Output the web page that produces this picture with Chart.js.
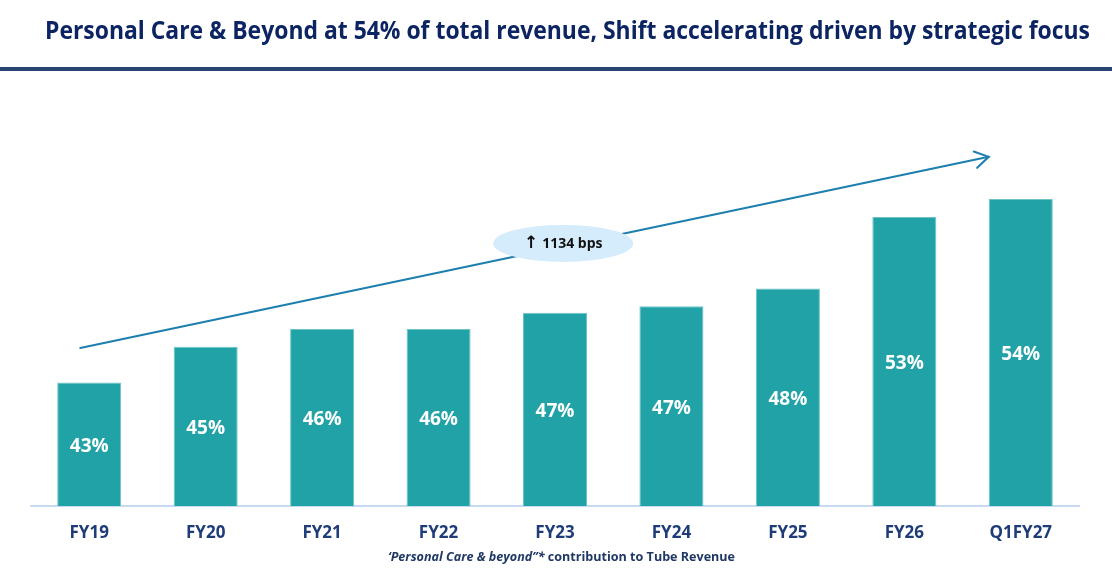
<!DOCTYPE html>
<html>
<head>
<meta charset="utf-8">
<script src="https://cdn.jsdelivr.net/npm/chart.js@4.4.0/dist/chart.umd.min.js"></script>
<style>
html,body{margin:0;padding:0;background:#ffffff;}
#wrap{width:1112px;height:575px;position:relative;overflow:hidden;}
</style>
</head>
<body>
<div id="wrap"><canvas id="c" width="1112" height="575"></canvas></div>
<script>
// ---- data ----
const categories = ['FY19','FY20','FY21','FY22','FY23','FY24','FY25','FY26','Q1FY27'];
const shareValues = [42.6, 44.8, 45.9, 45.9, 46.9, 47.3, 48.4, 52.8, 53.9];
const valueLabels = ['43%','45%','46%','46%','47%','47%','48%','53%','54%'];
const titleText = 'Personal Care & Beyond at 54% of total revenue, Shift accelerating driven by strategic focus';
const captionItalic = '\u2018Personal Care & beyond\u201D*';
const captionRest = ' contribution to Tube Revenue';
const badgeArrow = '\u2191';
const badgeText = '1134 bps';

const NAVY = '#0c2461';
const AXISNAVY = '#1d3c78';
const TEAL = '#21a2a7';

Chart.defaults.font.family = '"Open Sans", "DejaVu Sans", sans-serif';

const overlay = {
  id: 'overlay',
  beforeDraw(chart) {
    const ctx = chart.ctx;
    ctx.save();
    ctx.fillStyle = '#ffffff';
    ctx.fillRect(0, 0, chart.width, chart.height);
    ctx.restore();
  },
  afterDraw(chart) {
    const ctx = chart.ctx;
    const xs = chart.scales.x, ys = chart.scales.y;

    // Value labels centred inside bars
    ctx.save();
    ctx.font = 'bold 19px "Open Sans"';
    ctx.fillStyle = '#ffffff';
    ctx.textAlign = 'center';
    ctx.textBaseline = 'middle';
    const basePx = ys.getPixelForValue(ys.min);
    for (let i = 0; i < shareValues.length; i++) {
      const cx = xs.getPixelForValue(i);
      const top = ys.getPixelForValue(shareValues[i]);
      ctx.fillText(valueLabels[i], cx, (top + basePx) / 2 + 2);
    }
    ctx.restore();

    // Title
    ctx.save();
    ctx.font = 'bold 25px "Open Sans"';
    ctx.fillStyle = NAVY;
    ctx.textBaseline = 'alphabetic';
    const tw = ctx.measureText(titleText).width;
    ctx.translate(45, 39);
    ctx.scale(1045 / tw, 1);
    ctx.fillText(titleText, 0, 0);
    ctx.restore();
    // Underline
    ctx.save();
    ctx.fillStyle = '#27466f';
    ctx.fillRect(0, 67, chart.width, 4);
    ctx.restore();

    // Trend arrow
    const x0 = xs.getPixelForValue(0) - 9, y0 = ys.getPixelForValue(44.73);
    const x1 = xs.getPixelForValue(8) - 32, y1 = ys.getPixelForValue(56.5);
    ctx.save();
    ctx.strokeStyle = '#1c7fae';
    ctx.lineWidth = 2;
    ctx.lineCap = 'round';
    ctx.beginPath();
    ctx.moveTo(x0, y0);
    ctx.lineTo(x1, y1);
    ctx.stroke();
    const ang = Math.atan2(y1 - y0, x1 - x0);
    const L = 16, spread = 0.55;
    ctx.beginPath();
    ctx.moveTo(x1 - L * Math.cos(ang - spread), y1 - L * Math.sin(ang - spread));
    ctx.lineTo(x1, y1);
    ctx.lineTo(x1 - L * Math.cos(ang + spread), y1 - L * Math.sin(ang + spread));
    ctx.stroke();
    ctx.restore();

    // Badge ellipse
    const ex = (xs.getPixelForValue(4) + xs.getPixelForValue(5)) / 2 - 50;
    const ey = ys.getPixelForValue(51.17);
    ctx.save();
    ctx.fillStyle = '#d4ecfb';
    ctx.beginPath();
    ctx.ellipse(ex, ey, 70, 18.5, 0, 0, Math.PI * 2);
    ctx.fill();
    ctx.fillStyle = '#111111';
    ctx.textBaseline = 'middle';
    ctx.textAlign = 'left';
    const fA = 'bold 17px "DejaVu Sans"';
    const fT = 'bold 14px "Open Sans"';
    ctx.font = fA; const wa = ctx.measureText(badgeArrow).width;
    ctx.font = fT; const wt = ctx.measureText(badgeText).width;
    const gap = 4;
    const sx = ex - (wa + gap + wt) / 2;
    ctx.font = fA; ctx.fillText(badgeArrow, sx, ey);
    ctx.font = fT; ctx.fillText(badgeText, sx + wa + gap, ey + 1);
    ctx.restore();

    // Caption
    ctx.save();
    ctx.fillStyle = '#1f3864';
    ctx.textBaseline = 'alphabetic';
    const fI = 'italic bold 13px "Open Sans"';
    const fR = 'bold 13px "Open Sans"';
    ctx.font = fI; const w1 = ctx.measureText(captionItalic).width;
    ctx.font = fR; const w2 = ctx.measureText(captionRest).width;
    const sc = 347 / (w1 + w2);
    ctx.translate(388, 561);
    ctx.scale(sc, 1);
    ctx.font = fI; ctx.fillText(captionItalic, 0, 0);
    ctx.font = fR; ctx.fillText(captionRest, w1, 0);
    ctx.restore();
  }
};

new Chart(document.getElementById('c'), {
  type: 'bar',
  data: {
    labels: categories,
    datasets: [{
      data: shareValues,
      backgroundColor: TEAL,
      borderColor: '#6cc4c7',
      borderWidth: 1,
      categoryPercentage: 1,
      barPercentage: 0.55
    }]
  },
  options: {
    responsive: false,
    animation: false,
    devicePixelRatio: 1,
    layout: { padding: { top: 100, left: 31, right: 33, bottom: 0 } },
    plugins: { legend: { display: false }, title: { display: false }, tooltip: { enabled: false } },
    scales: {
      y: { display: false, min: 35, max: 60 },
      x: {
        grid: { display: false, drawTicks: false },
        border: { display: true, color: '#c6daf2', width: 2 },
        ticks: { color: AXISNAVY, font: { size: 17, weight: 'bold' }, padding: 17 },
        afterFit(scale) { scale.height = 69; }
      }
    }
  },
  plugins: [overlay]
});
</script>
</body>
</html>
